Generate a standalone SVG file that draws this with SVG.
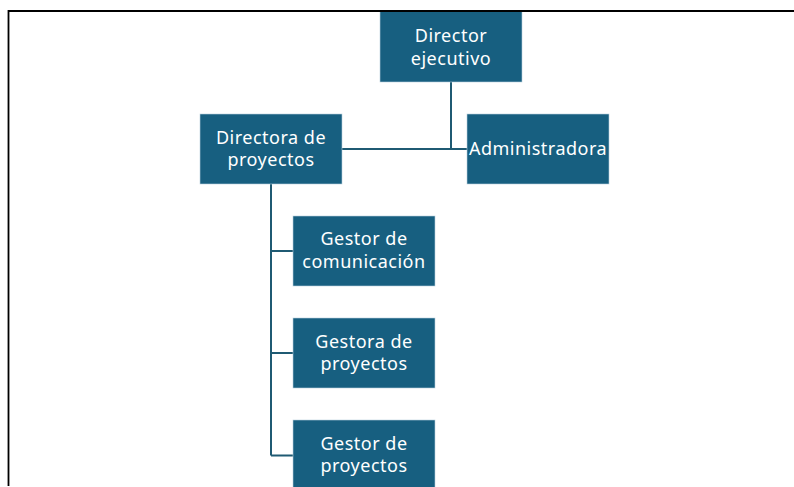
<svg xmlns="http://www.w3.org/2000/svg" width="794" height="487" viewBox="0 0 794 487">
<style>
.box{fill:#175f80;stroke:#b9d0dc;stroke-width:0.6}
.lbl{fill:#ffffff;font-family:"Noto Sans","Open Sans",Arial,sans-serif;font-size:18px;letter-spacing:0.5px;text-anchor:middle}
.conn{fill:none;stroke:#1f5a73;stroke-width:2}
</style>
<rect x="0" y="0" width="794" height="487" fill="#ffffff"/>
<g id="connectors">
<path class="conn" d="M451 82 V149 M342 149 H467"/>
<path class="conn" d="M271 184 V455.5 M271 251 H293 M271 353 H293 M271 455.5 H293"/>
</g>
<g id="n-director">
<rect class="box" x="380" y="11" width="142" height="71"/>
<text class="lbl" x="451" y="42">Director</text>
<text class="lbl" x="451" y="64.5">ejecutivo</text>
</g>
<g id="n-directora">
<rect class="box" x="200" y="114" width="142" height="70"/>
<text class="lbl" x="271" y="143.5">Directora de</text>
<text class="lbl" x="271" y="166">proyectos</text>
</g>
<g id="n-admin">
<rect class="box" x="467" y="114" width="142" height="70"/>
<text class="lbl" x="538" y="154.5">Administradora</text>
</g>
<g id="n-comunicacion">
<rect class="box" x="293" y="216" width="142" height="70"/>
<text class="lbl" x="364" y="245">Gestor de</text>
<text class="lbl" x="364" y="267.5">comunicación</text>
</g>
<g id="n-gestora">
<rect class="box" x="293" y="318" width="142" height="70"/>
<text class="lbl" x="364" y="347.5">Gestora de</text>
<text class="lbl" x="364" y="370">proyectos</text>
</g>
<g id="n-gestor">
<rect class="box" x="293" y="420" width="142" height="70"/>
<text class="lbl" x="364" y="449.5">Gestor de</text>
<text class="lbl" x="364" y="472">proyectos</text>
</g>
<g id="frame">
<path d="M8.5 486 V11 H794" fill="none" stroke="#000000" stroke-width="1.8"/>
</g>
</svg>
